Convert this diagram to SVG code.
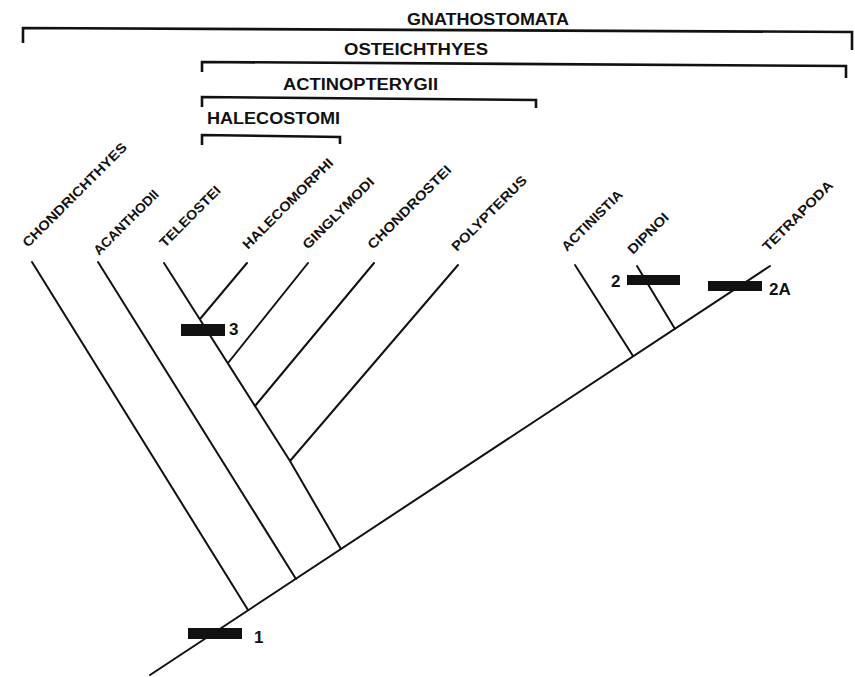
<svg xmlns="http://www.w3.org/2000/svg" width="855" height="677" viewBox="0 0 855 677">
<style>
.br{fill:none;stroke:#111;stroke-width:2.6;stroke-linejoin:miter}
.ln{fill:none;stroke:#111;stroke-width:2;stroke-linecap:round}
.hd{font-family:"Liberation Sans",Arial,sans-serif;font-weight:bold;font-size:16px;fill:#111}
.tx{font-family:"Liberation Sans",Arial,sans-serif;font-weight:bold;font-size:13.5px;fill:#111}
.nm{font-family:"Liberation Sans",Arial,sans-serif;font-weight:bold;font-size:17px;fill:#111}
.bar{fill:#111}
</style>
<rect width="855" height="677" fill="#fff"/>
<g id="brackets">
<g id="gnathostomata"><path class="br" d="M23,43 V28 L852,32 V50"/><text class="hd" x="407" y="25" textLength="162" lengthAdjust="spacingAndGlyphs">GNATHOSTOMATA</text></g>
<g id="osteichthyes"><path class="br" d="M202,72 V62 L846,66 V78"/><text class="hd" x="344" y="55" textLength="144" lengthAdjust="spacingAndGlyphs">OSTEICHTHYES</text></g>
<g id="actinopterygii"><path class="br" d="M202,107 V97 L536,100 V108"/><text class="hd" x="283" y="90" textLength="155" lengthAdjust="spacingAndGlyphs">ACTINOPTERYGII</text></g>
<g id="halecostomi"><path class="br" d="M202,145 V135 L340,137 V144"/><text class="hd" x="207" y="124" textLength="133" lengthAdjust="spacingAndGlyphs">HALECOSTOMI</text></g>
</g>
<g id="connectors">
<line class="ln" x1="150" y1="675" x2="770" y2="266"/>
<line class="ln" x1="32" y1="262" x2="248" y2="610"/>
<line class="ln" x1="98" y1="262" x2="296" y2="579"/>
<polyline class="ln" points="164,263 290,461 341,549"/>
<line class="ln" x1="200" y1="319" x2="247" y2="263"/>
<line class="ln" x1="228" y1="363" x2="308" y2="263"/>
<line class="ln" x1="255" y1="406" x2="374" y2="263"/>
<line class="ln" x1="290" y1="461" x2="458" y2="265"/>
<line class="ln" x1="575" y1="265" x2="633" y2="356"/>
<line class="ln" x1="637" y1="266" x2="675" y2="329"/>
</g>
<g id="chondrichthyes"><text class="tx" transform="translate(28,248) rotate(-45)" textLength="141" lengthAdjust="spacingAndGlyphs">CHONDRICHTHYES</text></g>
<g id="acanthodii"><text class="tx" transform="translate(99,256) rotate(-45)" textLength="86" lengthAdjust="spacingAndGlyphs">ACANTHODII</text></g>
<g id="teleostei"><text class="tx" transform="translate(165,248) rotate(-45)" textLength="80" lengthAdjust="spacingAndGlyphs">TELEOSTEI</text></g>
<g id="halecomorphi"><text class="tx" transform="translate(248,250) rotate(-45)" textLength="122" lengthAdjust="spacingAndGlyphs">HALECOMORPHI</text></g>
<g id="ginglymodi"><text class="tx" transform="translate(308,250) rotate(-45)" textLength="95" lengthAdjust="spacingAndGlyphs">GINGLYMODI</text></g>
<g id="chondrostei"><text class="tx" transform="translate(373,250) rotate(-45)" textLength="112" lengthAdjust="spacingAndGlyphs">CHONDROSTEI</text></g>
<g id="polypterus"><text class="tx" transform="translate(457,252) rotate(-45)" textLength="100" lengthAdjust="spacingAndGlyphs">POLYPTERUS</text></g>
<g id="actinistia"><text class="tx" transform="translate(567,252) rotate(-45)" textLength="80" lengthAdjust="spacingAndGlyphs">ACTINISTIA</text></g>
<g id="dipnoi"><text class="tx" transform="translate(633,255) rotate(-45)" textLength="52" lengthAdjust="spacingAndGlyphs">DIPNOI</text></g>
<g id="tetrapoda"><text class="tx" transform="translate(768,252) rotate(-45)" textLength="93" lengthAdjust="spacingAndGlyphs">TETRAPODA</text></g>
<g id="bar1"><rect class="bar" x="188" y="628" width="54" height="11"/><text class="nm" x="254" y="643">1</text></g>
<g id="bar3"><rect class="bar" x="181" y="324" width="44" height="12"/><text class="nm" x="229" y="335">3</text></g>
<g id="bar2"><rect class="bar" x="627" y="275" width="53" height="10"/><text class="nm" x="611" y="287">2</text></g>
<g id="bar2A"><rect class="bar" x="708" y="281" width="54" height="10"/><text class="nm" x="769" y="295">2A</text></g>
</svg>
